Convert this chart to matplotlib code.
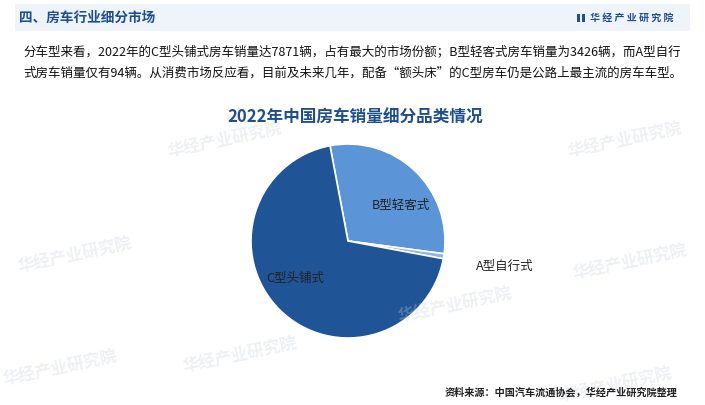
import matplotlib.pyplot as plt
import numpy as np
from matplotlib.patches import Rectangle

plt.rcParams["font.family"] = ["Noto Sans CJK SC", "DejaVu Sans"]

# data
categories = ["B型轻客式", "A型自行式", "C型头铺式"]
sales = [3426, 94, 7871]
colors = ["#5B95D8", "#8DB5E6", "#1F5497"]

header = "四、房车行业细分市场"
brand = "华经产业研究院"
paragraph = [
    "分车型来看，2022年的C型头铺式房车销量达7871辆，占有最大的市场份额；B型轻客式房车销量为3426辆，而A型自行",
    "式房车销量仅有94辆。从消费市场反应看，目前及未来几年，配备“额头床”的C型房车仍是公路上最主流的房车车型。",
]
chart_title = "2022年中国房车销量细分品类情况"
source = "资料来源：中国汽车流通协会，华经产业研究院整理"

W, H = 705, 405
fig = plt.figure(figsize=(W / 100, H / 100), dpi=100)
fig.patch.set_facecolor("white")


def fx(px):
    return px / W


def fy(py):
    return 1 - py / H


# header band
fig.patches.append(Rectangle((fx(15), fy(31)), fx(675), 27 / H, transform=fig.transFigure,
                             facecolor="#EFF4FB", edgecolor="none", zorder=1))
fig.text(fx(19), fy(18), header, fontsize=9.8, fontweight="bold", color="#1F4E8C",
         va="center", ha="left", zorder=2)
for bx in (577, 582):
    fig.patches.append(Rectangle((fx(bx), fy(22)), fx(3), 8 / H, transform=fig.transFigure,
                                 facecolor="#1F4E8C", edgecolor="none", zorder=2))
fig.text(fx(590), fy(18), " ".join(brand), fontsize=7.2, fontweight="bold",
         color="#1F4E8C", va="center", ha="left", zorder=2)

for i, line in enumerate(paragraph):
    fig.text(fx(23), fy(52 + i * 21), line, fontsize=9, color="#111111",
             va="center", ha="left", zorder=2)

fig.text(fx(355), fy(118), chart_title, fontsize=12, fontweight="bold", color="#1F4E8C",
         va="center", ha="center", zorder=2)

# pie
R = 97
cx, cy = 348, 241
ax = fig.add_axes([fx(cx - R), fy(cy + R), 2 * R / W, 2 * R / H])
wedges, _ = ax.pie(sales, colors=colors, startangle=100.7, counterclock=False,
                   radius=1.0, wedgeprops=dict(edgecolor="white", linewidth=1.2))
ax.set_xlim(-1, 1)
ax.set_ylim(-1, 1)
ax.set_aspect("equal")
ax.axis("off")

label_pos = {"B型轻客式": (0.66, -13), "A型自行式": (1.64, 0), "C型头铺式": (0.67, -10)}
for w, name in zip(wedges, categories):
    r, off = label_pos[name]
    ang = np.deg2rad((w.theta1 + w.theta2) / 2 + off)
    ax.text(r * np.cos(ang), r * np.sin(ang), name, fontsize=9, color="#222222",
            ha="center", va="center", clip_on=False)

fig.text(fx(678), fy(392), source, fontsize=7.3, fontweight="bold", color="#222222",
         va="center", ha="right", zorder=3)

# faint watermarks (drawn over everything, very light)
marks = [(225, 140), (625, 140), (75, 255), (630, 262), (455, 305),
         (240, 355), (60, 368), (615, 385)]
for x, y in marks:
    fig.text(fx(x), fy(y), brand, fontsize=12, fontweight="bold", color="#C5CEDB",
             alpha=0.3, rotation=12, ha="center", va="center", zorder=2)

fig.savefig("out.png", dpi=100)
